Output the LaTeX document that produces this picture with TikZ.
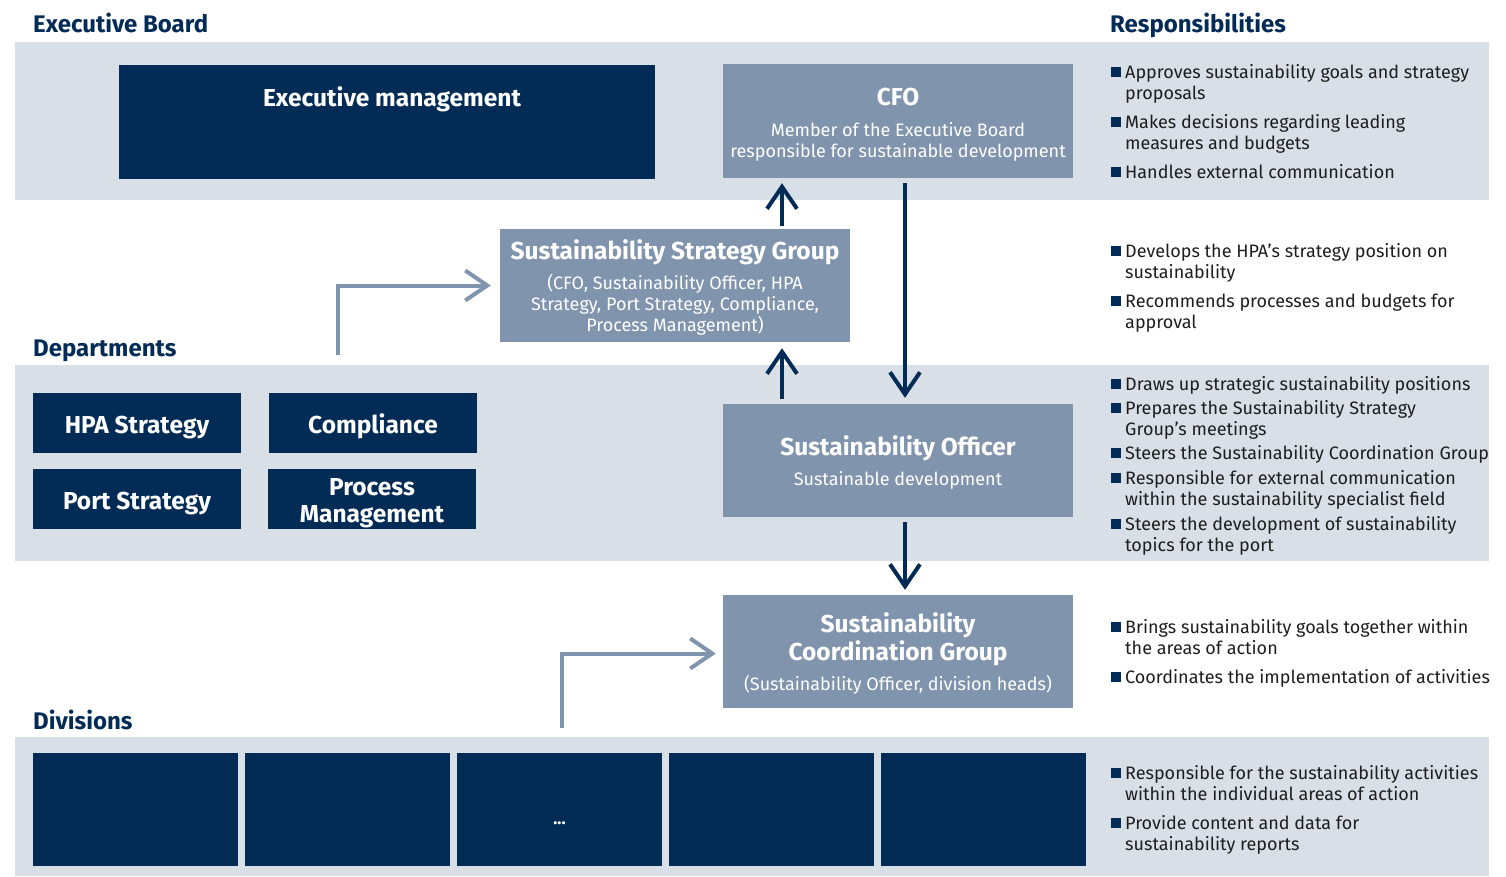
\documentclass[tikz,border=0pt]{standalone}
\usepackage{fontspec}
\setmainfont{Fira Sans}
\usetikzlibrary{arrows.meta}
\definecolor{navy}{HTML}{022B56}
\definecolor{mid}{HTML}{8094AD}
\definecolor{bandc}{HTML}{D8DFE7}
\definecolor{txt}{HTML}{1E1E1E}
\newcommand\bodyf{\fontsize{18}{21}\selectfont}
\newcommand\ttf{\bfseries\fontsize{24.5}{27}\selectfont}
\newcommand\hdf{\bfseries\fontsize{24}{26}\selectfont}
\newcommand\tstrut{\rule{0pt}{24pt}}
\newcommand\bsq{\noindent\makebox[0pt][r]{\textcolor{navy}{\rule[1.7pt]{9.5pt}{10pt}}\hspace{4.5pt}}\rule{0pt}{15pt}}
\tikzset{
  darkbox/.style={fill=navy, text=white, inner sep=0pt, align=center, font=\ttf,
    execute at begin node={\rule{0pt}{26pt}}},
  emptybox/.style={fill=navy, inner sep=0pt},
  midbox/.style={fill=mid, text=white, inner sep=0pt, align=center, font=\bodyf},
  navarr/.style={draw=navy, line width=4pt, -{Straight Barb[length=22pt,width=30pt]}},
  grayarr/.style={draw=mid, line width=4pt, -{Straight Barb[length=22pt,width=30pt]}},
  head/.style={font=\hdf, text=navy, anchor=base west, inner sep=0pt},
  bul/.style={anchor=north west, inner sep=0pt, align=left, font=\bodyf, text=txt},
}
\begin{document}
\begin{tikzpicture}[x=1pt,y=-1pt]
\useasboundingbox (0,0) rectangle (1506,876);
% bands
\fill[bandc] (15,42) rectangle (1489,200);
\fill[bandc] (15,365) rectangle (1489,561);
\fill[bandc] (15,737) rectangle (1489,876);
% headings
\node[head] (hEB) at (33,32) {Executive Board};
\node[head] (hRS) at (1110,32) {Responsibilities};
\node[head] (hDP) at (33,356) {Departments};
\node[head] (hDV) at (33,729) {Divisions};
% executive board
\node[emptybox, minimum width=536pt, minimum height=114pt] (em) at (387,122) {};
\node[text=white, font=\ttf, anchor=base, inner sep=0pt] (emt) at (392,106) {Executive management};
\node[midbox, minimum width=350pt, minimum height=114pt] (cfo) at (898,121)
  {{\ttf\tstrut CFO}\\[10pt]Member of the Executive Board\\responsible for sustainable development};
% strategy group
\node[midbox, minimum width=350pt, minimum height=113pt] (ssg) at (675,285.5)
  {{\ttf\tstrut Sustainability Strategy Group}\\[9pt](CFO, Sustainability Officer, HPA\\Strategy, Port Strategy, Compliance,\\Process Management)};
% departments
\node[darkbox, minimum width=208pt, minimum height=60pt] (hpa) at (137,423) {HPA Strategy};
\node[darkbox, minimum width=208pt, minimum height=60pt] (cmp) at (373,423) {Compliance};
\node[darkbox, minimum width=208pt, minimum height=60pt] (pst) at (137,499) {Port Strategy};
\node[darkbox, minimum width=208pt, minimum height=60pt] (prm) at (372,499) {\rule{0pt}{26pt}Process\\Management};
\node[midbox, minimum width=350pt, minimum height=113pt] (so) at (898,460.5)
  {{\ttf\tstrut Sustainability Officer}\\[9pt]Sustainable development};
% coordination group
\node[midbox, minimum width=350pt, minimum height=113pt] (scg) at (898,651.5)
  {{\ttf\tstrut Sustainability}\\[1pt]{\ttf Coordination Group}\\[9pt](Sustainability Officer, division heads)};
% divisions
\node[emptybox, minimum width=205pt, minimum height=113pt] (dv1) at (135.5,809.5) {};
\node[emptybox, minimum width=205pt, minimum height=113pt] (dv2) at (347.5,809.5) {};
\node[emptybox, minimum width=205pt, minimum height=113pt] (dv3) at (559.5,809.5) {};
\node[text=white, font=\bfseries\fontsize{17}{20}\selectfont, anchor=base, inner sep=0pt] (dots) at (559.5,824) {...};
\node[emptybox, minimum width=205pt, minimum height=113pt] (dv4) at (771.5,809.5) {};
\node[emptybox, minimum width=205pt, minimum height=113pt] (dv5) at (983.5,809.5) {};
% connectors
\draw[navarr] ([xshift=107pt,yshift=3pt]ssg.north) -- ([xshift=-116pt,yshift=-5pt]cfo.south);
\draw[navarr] ([xshift=7pt,yshift=-5pt]cfo.south) -- ([xshift=7pt,yshift=6pt]so.north);
\draw[navarr] ([xshift=-116pt,yshift=5pt]so.north) -- ([xshift=107pt,yshift=-6pt]ssg.south);
\draw[navarr] ([xshift=7pt,yshift=-5pt]so.south) -- ([xshift=7pt,yshift=5pt]scg.north);
\coordinate (g1) at (338,355);
\coordinate (g2) at (562,728);
\draw[grayarr] (g1) |- ([xshift=-9pt]ssg.west);
\draw[grayarr] (g2) |- ([xshift=-7pt,yshift=-2pt]scg.west);
% responsibilities
\node[bul] (r1) at (1125,63.5) {\bsq Approves sustainability goals and strategy\\proposals};
\node[bul] (r2) at (1125,113.5) {\bsq Makes decisions regarding leading\\measures and budgets};
\node[bul] (r3) at (1125,163.5) {\bsq Handles external communication};
\node[bul] (r4) at (1125,242.5) {\bsq Develops the HPA’s strategy position on\\sustainability};
\node[bul] (r5) at (1125,292.5) {\bsq Recommends processes and budgets for\\approval};
\node[bul] (r6) at (1125,375.5) {\bsq Draws up strategic sustainability positions};
\node[bul] (r7) at (1125,399.5) {\bsq Prepares the Sustainability Strategy\\Group’s meetings};
\node[bul] (r8) at (1125,444.5) {\bsq Steers the Sustainability Coordination Group};
\node[bul] (r9) at (1125,469.5) {\bsq Responsible for external communication\\within the sustainability specialist field};
\node[bul] (r10) at (1125,515.5) {\bsq Steers the development of sustainability\\topics for the port};
\node[bul] (r11) at (1125,618.5) {\bsq Brings sustainability goals together within\\the areas of action};
\node[bul] (r12) at (1125,668.5) {\bsq Coordinates the implementation of activities};
\node[bul] (r13) at (1125,764.5) {\bsq Responsible for the sustainability activities\\within the individual areas of action};
\node[bul] (r14) at (1125,814.5) {\bsq Provide content and data for\\sustainability reports};
\end{tikzpicture}
\end{document}
